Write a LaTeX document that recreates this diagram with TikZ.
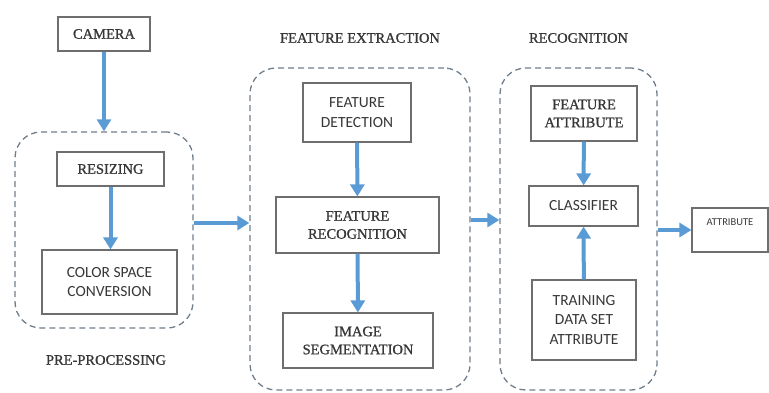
\documentclass[tikz,border=0pt]{standalone}
\usepackage{fontspec}
\setmainfont{Liberation Serif}[FakeBold=1.0]
\newfontfamily\calib{Carlito}
\usetikzlibrary{arrows.meta}
\definecolor{flowblue}{RGB}{91,155,213}
\definecolor{groupgray}{RGB}{112,126,140}
\definecolor{boxgray}{RGB}{110,110,110}
\definecolor{textgray}{RGB}{55,55,55}
\tikzset{x=1pt, y=-1pt,
box/.style={ % plain boxes
draw=boxgray,
line width=1.1pt,
text=textgray,
align=center,
inner sep=0pt},
serifbox/.style={box,
font=\fontsize{14.5}{18}\selectfont},
sansbox/.style={box,
font=\calib\fontsize{15.5}{19.5}\selectfont},
group/.style={ % dashed stage frames
draw=groupgray,
line width=1.3pt,
dash pattern=on 6pt off 4pt,
rounded corners=26pt,
inner sep=0pt},
title/.style={text=textgray,
font=\fontsize{14.5}{18}\selectfont},
flow/.style={ % thick blue arrows
draw=flowblue,
line width=4pt,
-{Triangle[width=14pt,length=12pt]}}}

\begin{document}
\begin{tikzpicture}
\useasboundingbox (0,0) rectangle (769,392);
% stage frames
\node[group, minimum width=178, minimum height=196] (pre) at (104,230) {};
\node[group, minimum width=220, minimum height=322] (fe) at (360,229) {};
\node[group, minimum width=157, minimum height=322] (rec) at (578.5,229) {};
\node[title] (prelabel) at (106,360) {PRE-PROCESSING};
\node[title] (felabel) at (360,38) {FEATURE EXTRACTION};
\node[title] (reclabel) at (578.5,38) {RECOGNITION};
% boxes
\node[serifbox, minimum width=92, minimum height=34] (camera) at (104,34) {CAMERA};
\node[serifbox, minimum width=107, minimum height=34] (resize) at (110.5,169) {RESIZING};
\node[sansbox, minimum width=135, minimum height=64] (color) at (109.5,282) {COLOR SPACE\\CONVERSION};
\node[sansbox, minimum width=108, minimum height=59] (detect) at (357,112.5) {FEATURE\\DETECTION};
\node[serifbox, minimum width=163, minimum height=56] (frecog) at (357.5,225) {FEATURE\\RECOGNITION};
\node[serifbox, minimum width=150, minimum height=55] (seg) at (358,340.5) {IMAGE\\SEGMENTATION};
\node[serifbox, minimum width=106, minimum height=55] (fattr) at (584,113.5) {FEATURE\\ATTRIBUTE};
\node[sansbox, minimum width=109, minimum height=40] (classify) at (583.5,206) {CLASSIFIER};
\node[sansbox, minimum width=104, minimum height=80] (train) at (584,320) {TRAINING\\DATA SET\\ATTRIBUTE};
\node[box, minimum width=76, minimum height=44] (attr) at (730,230) {};
\node[text=textgray, font=\calib\fontsize{10.5}{12}\selectfont] (attrtext) at (730,222) {ATTRIBUTE};
% arrows
\draw[flow] (camera) -- (pre);
\draw[flow] (resize.south) -- (resize.south |- color.north);
\draw[flow] ([yshift=7pt]pre.east) -- ([yshift=7pt]pre.east -| fe.west);
\draw[flow] (detect) -- (frecog);
\draw[flow] (frecog) -- (seg);
\draw[flow] ([yshift=9pt]fe.east) -- ([yshift=9pt]fe.east -| rec.west);
\draw[flow] (fattr) -- (classify);
\draw[flow] (train) -- (classify);
\draw[flow] (rec.east |- attr) -- (attr.west);
\end{tikzpicture}
\end{document}
